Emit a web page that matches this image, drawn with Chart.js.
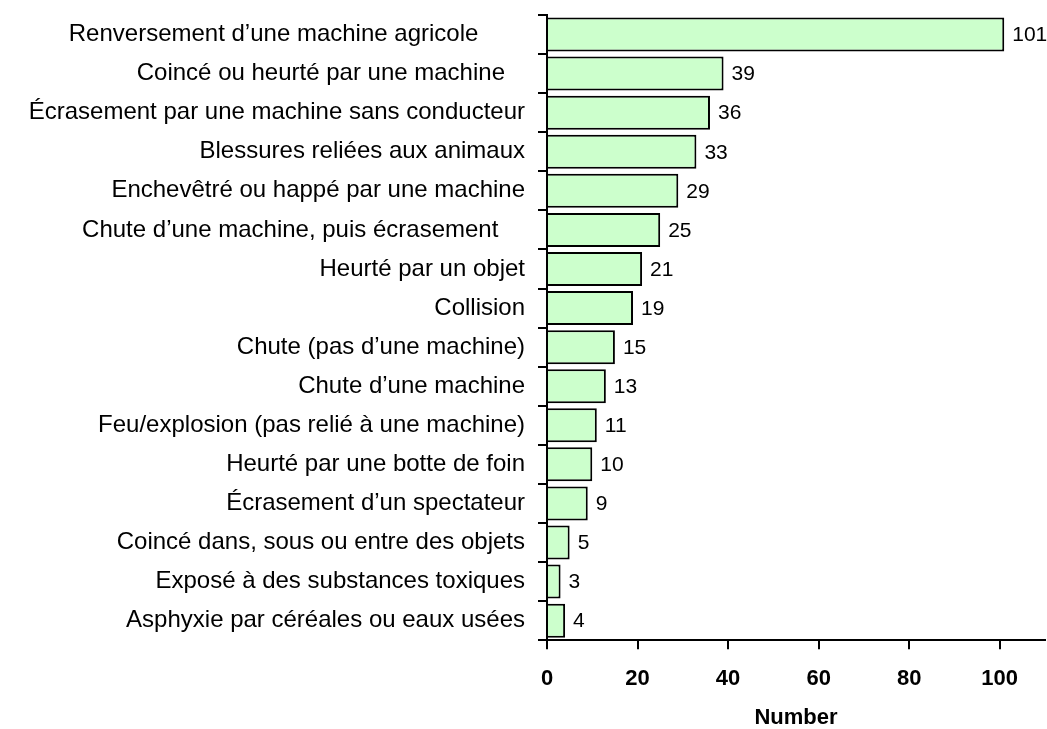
<!DOCTYPE html>
<html>
<head>
<meta charset="utf-8">
<script src="https://cdn.jsdelivr.net/npm/chart.js@4"></script>
<style>
  html, body { margin: 0; padding: 0; background: #fff; }
  #wrap { width: 1047px; height: 729px; }
</style>
</head>
<body>
<div id="wrap"><canvas id="chart" width="1047" height="729"></canvas></div>
<script>
// categories as shown, top to bottom (some carry trailing blanks as in the source)
var categories = [
    'Renversement d\u2019une machine agricole       ',
    'Coinc\u00e9 ou heurt\u00e9 par une machine   ',
    '\u00c9crasement par une machine sans conducteur',
    'Blessures reli\u00e9es aux animaux',
    'Enchev\u00eatr\u00e9 ou happ\u00e9 par une machine',
    'Chute d\u2019une machine, puis \u00e9crasement    ',
    'Heurt\u00e9 par un objet',
    'Collision',
    'Chute (pas d\u2019une machine)',
    'Chute d\u2019une machine',
    'Feu/explosion (pas reli\u00e9 \u00e0 une machine)',
    'Heurt\u00e9 par une botte de foin',
    '\u00c9crasement d\u2019un spectateur',
    'Coinc\u00e9 dans, sous ou entre des objets',
    'Expos\u00e9 \u00e0 des substances toxiques',
    'Asphyxie par c\u00e9r\u00e9ales ou eaux us\u00e9es'
];
var counts = [101, 39, 36, 33, 29, 25, 21, 19, 15, 13, 11, 10, 9, 5, 3, 4];
var xTicks = [0, 20, 40, 60, 80, 100];
var xTitle = 'Number';

var FONT = 'Arial, "Liberation Sans", sans-serif';

// writes the count to the right of each bar
var valueLabels = {
    id: 'valueLabels',
    afterDatasetsDraw: function(chart) {
        var ctx = chart.ctx;
        var meta = chart.getDatasetMeta(0);
        ctx.save();
        ctx.font = '21px ' + FONT;
        ctx.fillStyle = '#000';
        ctx.textAlign = 'left';
        ctx.textBaseline = 'middle';
        meta.data.forEach(function(bar, i) {
            ctx.fillText(String(counts[i]), bar.x + 8, bar.y + 1);
        });
        ctx.restore();
    }
};

var config = {
    type: 'bar',
    data: {
        labels: categories,
        datasets: [{
            data: counts,
            backgroundColor: '#ccffcc',
            borderColor: '#000',
            borderWidth: 2,
            borderSkipped: 'left',
            categoryPercentage: 0.87,
            barPercentage: 1.0
        }]
    },
    options: {
        indexAxis: 'y',
        responsive: false,
        animation: false,
        layout: { padding: { top: 15, right: 2, left: 0, bottom: 0 } },
        plugins: {
            legend: { display: false },
            tooltip: { enabled: false }
        },
        scales: {
            x: {
                min: 0,
                max: 110,
                afterBuildTicks: function(axis) {
                    axis.ticks = xTicks.map(function(v) { return { value: v }; });
                },
                grid: {
                    drawOnChartArea: false,
                    drawTicks: true,
                    tickLength: 9,
                    color: '#000',
                    lineWidth: 2
                },
                border: { color: '#000', width: 2 },
                ticks: {
                    color: '#000',
                    padding: 17,
                    font: { family: FONT, size: 22, weight: 'bold' }
                },
                title: {
                    display: true,
                    text: xTitle,
                    color: '#000',
                    padding: { top: -5, bottom: -2 },
                    font: { family: FONT, size: 22, weight: 'bold' }
                }
            },
            y: {
                afterFit: function(axis) {
                    axis.width = 547;
                    axis.paddingTop = 0;
                    axis.paddingBottom = 0;
                },
                grid: {
                    drawOnChartArea: false,
                    drawTicks: true,
                    tickLength: 9,
                    color: '#000',
                    lineWidth: 2,
                    offset: true
                },
                border: { color: '#000', width: 2 },
                ticks: {
                    color: '#000',
                    padding: 13,
                    autoSkip: false,
                    font: { family: FONT, size: 24 }
                }
            }
        }
    },
    plugins: [valueLabels]
};

window.onload = function() {
    var ctx = document.getElementById('chart').getContext('2d');
    window.myBar = new Chart(ctx, config);
};
</script>
</body>
</html>
